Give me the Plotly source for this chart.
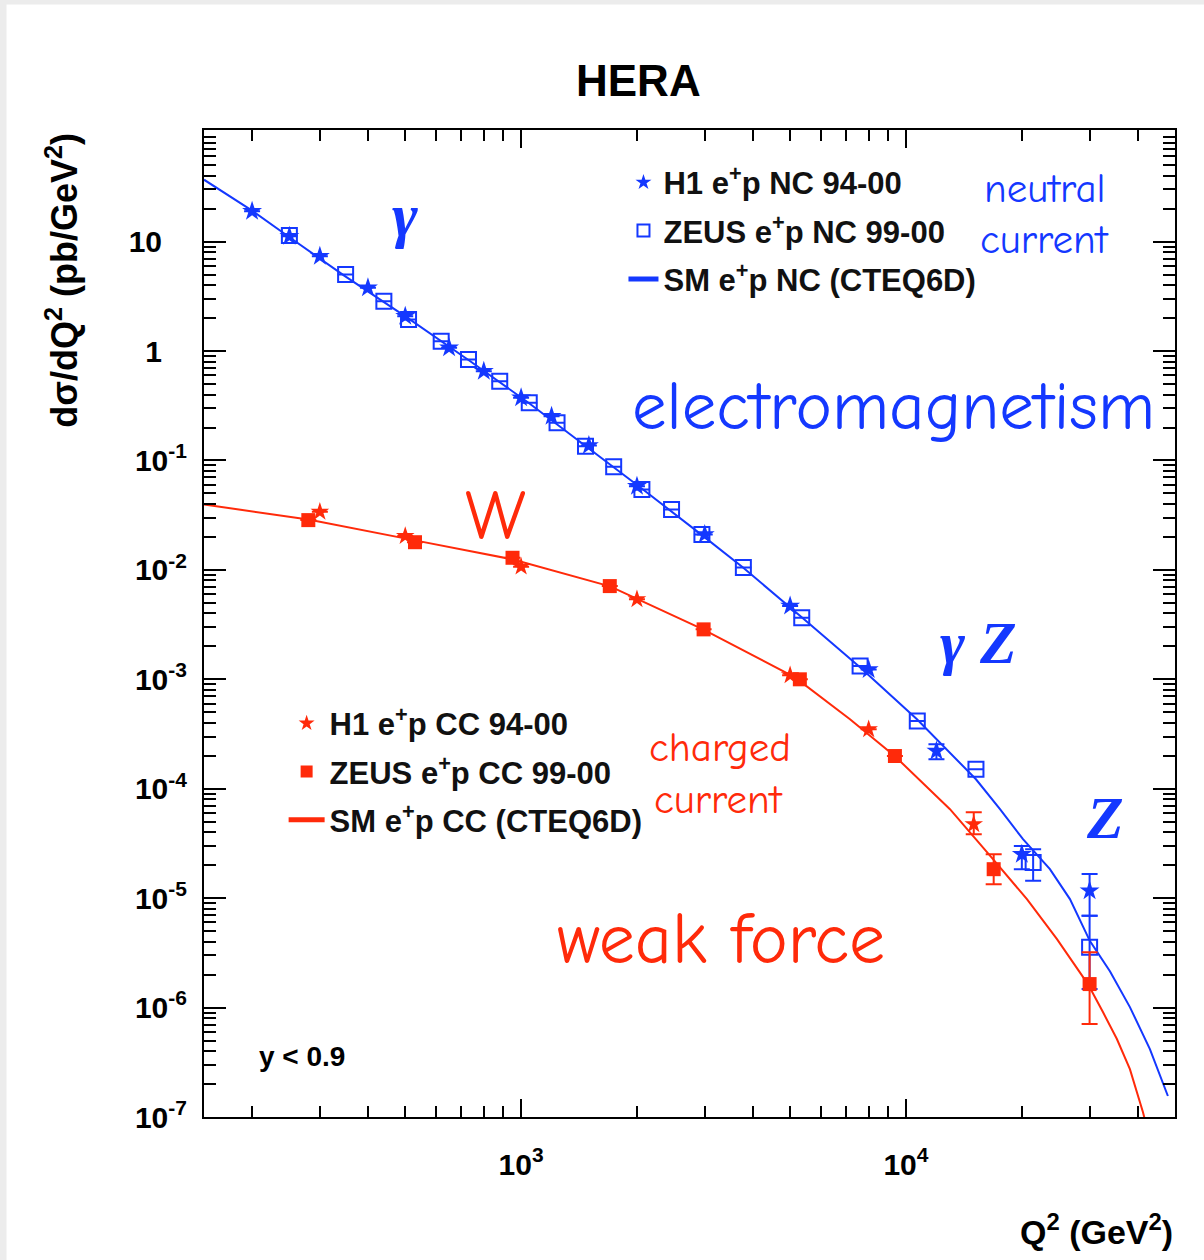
import plotly.graph_objects as go

BLUE = "#1438ff"
RED = "#ff2a0a"

# ---------------- data ----------------
# Neutral current, H1 (stars)
nc_h1_q2 = [200, 250, 300, 400, 500, 650, 800, 1000, 1200, 1500, 2000, 3000, 5000, 8000, 12000, 20000, 30000]
nc_h1_xs = [18.9, 11.2, 7.34, 3.78, 2.08, 1.07, 0.654, 0.374, 0.254, 0.137, 0.0582, 0.0211, 0.00467, 0.00123, 2.21e-4, 2.52e-5, 1.17e-5]
nc_h1_hi = [None]*14 + [2.55e-4, 3.0e-5, 1.66e-5]
nc_h1_lo = [None]*14 + [1.86e-4, 1.84e-5, 6.9e-6]

# Neutral current, ZEUS (open squares)
nc_zeus_q2 = [250, 350, 440, 510, 620, 730, 880, 1050, 1240, 1470, 1740, 2060, 2460, 2950, 3780, 5360, 7600, 10700, 15200, 21400, 30000]
nc_zeus_xs = [11.4, 5.0, 2.85, 1.94, 1.23, 0.836, 0.530, 0.336, 0.221, 0.135, 0.0876, 0.0543, 0.0357, 0.0211, 0.0105, 0.00366, 0.00132, 4.16e-4, 1.51e-4, 2.12e-5, 3.55e-6]
nc_zeus_hi = [None]*19 + [2.8e-5, 6.9e-6]
nc_zeus_lo = [None]*19 + [1.44e-5, 1.48e-6]

# Charged current, H1 (stars)
cc_h1_q2 = [300, 500, 1000, 2000, 5000, 8000, 15000]
cc_h1_xs = [0.0340, 0.0204, 0.0107, 0.00538, 0.00109, 3.49e-4, 4.74e-5]
cc_h1_hi = [None]*6 + [6.1e-5]
cc_h1_lo = [None]*6 + [3.84e-5]

# Charged current, ZEUS (filled squares)
cc_zeus_q2 = [280, 530, 950, 1700, 2980, 5300, 9360, 16900, 30000]
cc_zeus_xs = [0.0285, 0.0179, 0.0129, 0.00711, 0.00286, 0.00100, 1.99e-4, 1.84e-5, 1.64e-6]
cc_zeus_hi = [None]*7 + [2.52e-5, 3.21e-6]
cc_zeus_lo = [None]*7 + [1.34e-5, 7.07e-7]

# SM predictions (CTEQ6D)
sm_nc_q2 = [150, 200, 247, 347, 506, 733, 1043, 1466, 2074, 2934, 3772, 5369, 7596, 10680, 15200, 17550, 20140, 23660, 26670, 30060, 33880, 38180, 43030, 47920]
sm_nc_xs = [36.8, 19.2, 11.3, 4.89, 2.02, 0.819, 0.339, 0.137, 0.0543, 0.0211, 0.0105, 0.00368, 0.00129, 4.31e-4, 1.22e-4, 6.5e-5, 3.46e-5, 1.84e-5, 9.8e-6, 4.05e-6, 2.15e-6, 1.01e-6, 4.18e-7, 1.556e-7]
sm_cc_q2 = [150, 280, 530, 948, 1703, 2970, 5148, 7154, 9363, 13010, 16830, 20620, 24680, 29700, 32490, 35320, 38180, 41270, 43030]
sm_cc_xs = [0.0396, 0.0289, 0.0186, 0.0125, 0.00707, 0.00286, 0.00104, 4.31e-4, 1.98e-4, 6.5e-5, 2.27e-5, 9.79e-6, 4.22e-6, 1.64e-6, 9.1e-7, 5.16e-7, 2.74e-7, 1.11e-7, 6.3e-8]

y_tick_vals = [1e-7, 1e-6, 1e-5, 1e-4, 1e-3, 1e-2, 1e-1, 1, 10]
y_tick_text = ["10<sup>-7</sup>", "10<sup>-6</sup>", "10<sup>-5</sup>", "10<sup>-4</sup>",
               "10<sup>-3</sup>", "10<sup>-2</sup>", "10<sup>-1</sup>", "1&nbsp;&nbsp;&nbsp;", "10&nbsp;&nbsp;&nbsp;"]
x_tick_vals = [1e3, 1e4]
x_tick_text = ["10<sup>3</sup>", "10<sup>4</sup>"]


def err(vals, hi, lo):
    up = [(h - v) if h is not None else 0 for v, h in zip(vals, hi)]
    dn = [(v - l) if l is not None else 0 for v, l in zip(vals, lo)]
    return up, dn


fig = go.Figure()

# SM curves
fig.add_trace(go.Scatter(x=sm_nc_q2, y=sm_nc_xs, mode="lines", line=dict(color=BLUE, width=2),
                         name="SM e<sup>+</sup>p NC (CTEQ6D)", legend="legend", legendgroup="c", legendrank=3))
fig.add_trace(go.Scatter(x=sm_cc_q2, y=sm_cc_xs, mode="lines", line=dict(color=RED, width=2),
                         name="SM e<sup>+</sup>p CC (CTEQ6D)", legend="legend2", legendgroup="f", legendrank=3))

up, dn = err(nc_zeus_xs, nc_zeus_hi, nc_zeus_lo)
fig.add_trace(go.Scatter(x=nc_zeus_q2, y=nc_zeus_xs, mode="markers",
                         marker=dict(symbol="square-open", size=15, color=BLUE, line=dict(width=2, color=BLUE)),
                         error_y=dict(type="data", symmetric=False, array=up, arrayminus=dn, color=BLUE, thickness=2, width=8),
                         name="ZEUS e<sup>+</sup>p NC 99-00", legend="legend", legendgroup="b", legendrank=2))
up, dn = err(nc_h1_xs, nc_h1_hi, nc_h1_lo)
fig.add_trace(go.Scatter(x=nc_h1_q2, y=nc_h1_xs, mode="markers",
                         marker=dict(symbol="star", size=15, color=BLUE, line=dict(width=0)),
                         error_y=dict(type="data", symmetric=False, array=up, arrayminus=dn, color=BLUE, thickness=2, width=8),
                         name="H1 e<sup>+</sup>p NC 94-00", legend="legend", legendgroup="a", legendrank=1))
up, dn = err(cc_zeus_xs, cc_zeus_hi, cc_zeus_lo)
fig.add_trace(go.Scatter(x=cc_zeus_q2, y=cc_zeus_xs, mode="markers",
                         marker=dict(symbol="square", size=14, color=RED, line=dict(width=0)),
                         error_y=dict(type="data", symmetric=False, array=up, arrayminus=dn, color=RED, thickness=2, width=8),
                         name="ZEUS e<sup>+</sup>p CC 99-00", legend="legend2", legendgroup="e", legendrank=2))
up, dn = err(cc_h1_xs, cc_h1_hi, cc_h1_lo)
fig.add_trace(go.Scatter(x=cc_h1_q2, y=cc_h1_xs, mode="markers",
                         marker=dict(symbol="star", size=14, color=RED, line=dict(width=0)),
                         error_y=dict(type="data", symmetric=False, array=up, arrayminus=dn, color=RED, thickness=2, width=8),
                         name="H1 e<sup>+</sup>p CC 94-00", legend="legend2", legendgroup="d", legendrank=1))

x_minor = [k * 10 ** n for n in range(2, 5) for k in range(2, 10) if 150 <= k * 10 ** n <= 50000]
y_minor = [k * 10.0 ** n for n in range(-7, 2) for k in range(2, 10)]

FONT = "Liberation Sans, Arial, Helvetica, sans-serif"
COMIC = "Comic Sans MS, Comic Neue, DejaVu Sans, sans-serif"
SERIF = "Liberation Serif, Times New Roman, serif"

fig.update_xaxes(type="log", range=[2.1761, 4.699], showline=True, linewidth=2, linecolor="black",
                 mirror="ticks", ticks="inside", ticklen=18, tickwidth=2, tickcolor="black",
                 tickmode="array", tickvals=x_tick_vals, ticktext=x_tick_text,
                 tickfont=dict(family=FONT, size=30, color="black", weight="bold"), ticklabelstandoff=20,
                 minor=dict(tickmode="array", tickvals=x_minor, ticks="inside", ticklen=11, tickwidth=2,
                            tickcolor="black", showgrid=False),
                 showgrid=False, zeroline=False)
fig.update_yaxes(type="log", range=[-7, 2.02], showline=True, linewidth=2, linecolor="black",
                 mirror="ticks", ticks="inside", ticklen=22, tickwidth=2, tickcolor="black",
                 tickmode="array", tickvals=y_tick_vals, ticktext=y_tick_text,
                 tickfont=dict(family=FONT, size=30, color="black", weight="bold"), ticklabelstandoff=9,
                 minor=dict(tickmode="array", tickvals=y_minor, ticks="inside", ticklen=12, tickwidth=2,
                            tickcolor="black", showgrid=False),
                 showgrid=False, zeroline=False)

annotations = [
    dict(text="<b>HERA</b>", x=0.447, y=1.05, xref="paper", yref="paper", xanchor="center", yanchor="middle",
         showarrow=False, font=dict(family=FONT, size=44, color="black")),
    dict(text="<b>dσ/dQ<sup>2</sup> (pb/GeV<sup>2</sup>)</b>", x=-0.146, y=0.999, xref="paper", yref="paper",
         xanchor="center", yanchor="top", textangle=-90, showarrow=False,
         font=dict(family=FONT, size=36, color="black")),
    dict(text="<b>Q<sup>2</sup> (GeV<sup>2</sup>)</b>", x=1.0, y=-0.114, xref="paper", yref="paper",
         xanchor="right", yanchor="middle", showarrow=False, font=dict(family=FONT, size=34, color="black")),
    dict(text="<b>y < 0.9</b>", x=0.101, y=0.061, xref="paper", yref="paper", xanchor="center", yanchor="middle",
         showarrow=False, font=dict(family=FONT, size=28, color="black")),
    dict(text="<b><i>γ</i></b>", x=0.207, y=0.914, xref="paper", yref="paper", xanchor="center", yanchor="middle",
         showarrow=False, font=dict(family=SERIF, size=62, color=BLUE)),
    dict(text="<b><i>γ Z</i></b>", x=0.798, y=0.480, xref="paper", yref="paper", xanchor="center", yanchor="middle",
         showarrow=False, font=dict(family=SERIF, size=60, color=BLUE)),
    dict(text="<b><i>Z</i></b>", x=0.928, y=0.303, xref="paper", yref="paper", xanchor="center", yanchor="middle",
         showarrow=False, font=dict(family=SERIF, size=60, color=BLUE)),
    dict(text="neutral", x=0.866, y=0.941, xref="paper", yref="paper", xanchor="center", yanchor="middle",
         showarrow=False, font=dict(family=COMIC, size=41, color=BLUE)),
    dict(text="current", x=0.866, y=0.889, xref="paper", yref="paper", xanchor="center", yanchor="middle",
         showarrow=False, font=dict(family=COMIC, size=41, color=BLUE)),
    dict(text="electromagnetism", x=0.710, y=0.720, xref="paper", yref="paper", xanchor="center", yanchor="middle",
         showarrow=False, font=dict(family=COMIC, size=69, color=BLUE)),
    dict(text="W", x=0.300, y=0.608, xref="paper", yref="paper", xanchor="center", yanchor="middle",
         showarrow=False, font=dict(family=COMIC, size=70, color=RED)),
    dict(text="charged", x=0.531, y=0.374, xref="paper", yref="paper", xanchor="center", yanchor="middle",
         showarrow=False, font=dict(family=COMIC, size=41, color=RED)),
    dict(text="current", x=0.530, y=0.322, xref="paper", yref="paper", xanchor="center", yanchor="middle",
         showarrow=False, font=dict(family=COMIC, size=41, color=RED)),
    dict(text="weak force", x=0.532, y=0.180, xref="paper", yref="paper", xanchor="center", yanchor="middle",
         showarrow=False, font=dict(family=COMIC, size=72, color=RED)),
]

fig.update_layout(
    width=1204, height=1260,
    margin=dict(l=204, r=29, t=130, b=143),
    paper_bgcolor="white", plot_bgcolor="white",
    font=dict(family=FONT, color="black"),
    annotations=annotations,
    showlegend=True,
    legend=dict(x=0.432, y=0.974, xanchor="left", yanchor="top", bgcolor="rgba(0,0,0,0)",
                font=dict(family=FONT, size=31, color="#111", weight="bold"), tracegroupgap=5,
                traceorder="grouped", itemsizing="constant"),
    legend2=dict(x=0.082, y=0.426, xanchor="left", yanchor="top", bgcolor="rgba(0,0,0,0)",
                 font=dict(family=FONT, size=31, color="#111", weight="bold"), tracegroupgap=5,
                 traceorder="grouped", itemsizing="constant", itemwidth=36),
    shapes=[
        dict(type="line", xref="paper", yref="paper", x0=-0.2070, x1=-0.2070, y0=-0.1449, y1=1.1317,
             line=dict(color="#ececec", width=7), layer="below"),
        dict(type="line", xref="paper", yref="paper", x0=-0.2101, x1=1.0299, y0=1.1297, y1=1.1297,
             line=dict(color="#ececec", width=5), layer="below"),
    ],
)

fig.write_html("out.html")
